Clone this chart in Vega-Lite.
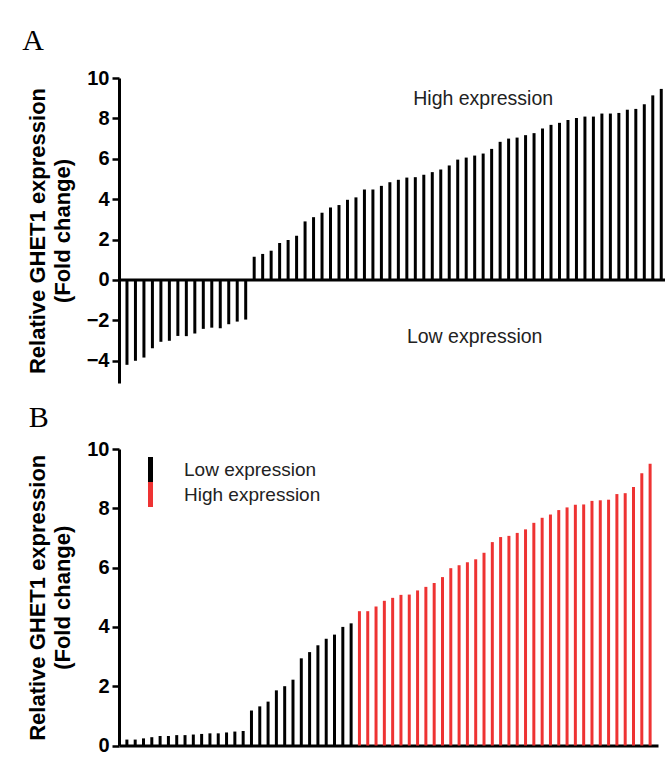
{
  "$schema": "https://vega.github.io/schema/vega-lite/v6.json",
  "background": "white",
  "padding": {"left": 22, "top": 26, "right": 0, "bottom": 0},
  "spacing": 20,
  "resolve": {"scale": {"color": "independent"}, "legend": {"color": "independent"}},
  "config": {
    "view": {"stroke": null},
    "font": "Liberation Sans",
    "axis": {
      "domainColor": "black", "domainWidth": 3, "tickColor": "black", "tickWidth": 2.5, "tickSize": 7,
      "labelFont": "Liberation Sans", "labelFontWeight": "bold", "labelFontSize": 20, "labelColor": "black", "labelPadding": 3,
      "titleFont": "Liberation Sans", "titleFontWeight": "bold", "titleFontSize": 22, "titleColor": "black", "titlePadding": 12, "titleLineHeight": 25,
      "grid": false
    },
    "title": {"font": "Liberation Serif", "fontSize": 30, "fontWeight": "normal", "color": "black", "anchor": "start", "frame": "bounds"}
  },
  "datasets": {
    "d": [
      {"i": 1, "a": -4.20, "b": 0.20, "grp": "Low expression"},
      {"i": 2, "a": -4.00, "b": 0.20, "grp": "Low expression"},
      {"i": 3, "a": -3.84, "b": 0.24, "grp": "Low expression"},
      {"i": 4, "a": -3.38, "b": 0.28, "grp": "Low expression"},
      {"i": 5, "a": -3.06, "b": 0.32, "grp": "Low expression"},
      {"i": 6, "a": -3.01, "b": 0.32, "grp": "Low expression"},
      {"i": 7, "a": -2.77, "b": 0.35, "grp": "Low expression"},
      {"i": 8, "a": -2.78, "b": 0.35, "grp": "Low expression"},
      {"i": 9, "a": -2.65, "b": 0.37, "grp": "Low expression"},
      {"i": 10, "a": -2.42, "b": 0.39, "grp": "Low expression"},
      {"i": 11, "a": -2.36, "b": 0.41, "grp": "Low expression"},
      {"i": 12, "a": -2.39, "b": 0.41, "grp": "Low expression"},
      {"i": 13, "a": -2.19, "b": 0.44, "grp": "Low expression"},
      {"i": 14, "a": -2.06, "b": 0.47, "grp": "Low expression"},
      {"i": 15, "a": -1.96, "b": 0.49, "grp": "Low expression"},
      {"i": 16, "a": 1.15, "b": 1.18, "grp": "Low expression"},
      {"i": 17, "a": 1.29, "b": 1.32, "grp": "Low expression"},
      {"i": 18, "a": 1.45, "b": 1.48, "grp": "Low expression"},
      {"i": 19, "a": 1.83, "b": 1.86, "grp": "Low expression"},
      {"i": 20, "a": 1.98, "b": 2.00, "grp": "Low expression"},
      {"i": 21, "a": 2.19, "b": 2.22, "grp": "Low expression"},
      {"i": 22, "a": 2.90, "b": 2.94, "grp": "Low expression"},
      {"i": 23, "a": 3.11, "b": 3.15, "grp": "Low expression"},
      {"i": 24, "a": 3.33, "b": 3.38, "grp": "Low expression"},
      {"i": 25, "a": 3.59, "b": 3.60, "grp": "Low expression"},
      {"i": 26, "a": 3.71, "b": 3.74, "grp": "Low expression"},
      {"i": 27, "a": 3.97, "b": 4.00, "grp": "Low expression"},
      {"i": 28, "a": 4.09, "b": 4.12, "grp": "Low expression"},
      {"i": 29, "a": 4.48, "b": 4.53, "grp": "High expression"},
      {"i": 30, "a": 4.48, "b": 4.53, "grp": "High expression"},
      {"i": 31, "a": 4.66, "b": 4.69, "grp": "High expression"},
      {"i": 32, "a": 4.84, "b": 4.88, "grp": "High expression"},
      {"i": 33, "a": 4.96, "b": 4.98, "grp": "High expression"},
      {"i": 34, "a": 5.07, "b": 5.08, "grp": "High expression"},
      {"i": 35, "a": 5.09, "b": 5.09, "grp": "High expression"},
      {"i": 36, "a": 5.21, "b": 5.23, "grp": "High expression"},
      {"i": 37, "a": 5.34, "b": 5.35, "grp": "High expression"},
      {"i": 38, "a": 5.47, "b": 5.48, "grp": "High expression"},
      {"i": 39, "a": 5.67, "b": 5.68, "grp": "High expression"},
      {"i": 40, "a": 5.96, "b": 5.98, "grp": "High expression"},
      {"i": 41, "a": 6.06, "b": 6.08, "grp": "High expression"},
      {"i": 42, "a": 6.16, "b": 6.18, "grp": "High expression"},
      {"i": 43, "a": 6.26, "b": 6.28, "grp": "High expression"},
      {"i": 44, "a": 6.49, "b": 6.50, "grp": "High expression"},
      {"i": 45, "a": 6.84, "b": 6.86, "grp": "High expression"},
      {"i": 46, "a": 7.00, "b": 7.03, "grp": "High expression"},
      {"i": 47, "a": 7.05, "b": 7.07, "grp": "High expression"},
      {"i": 48, "a": 7.17, "b": 7.17, "grp": "High expression"},
      {"i": 49, "a": 7.27, "b": 7.29, "grp": "High expression"},
      {"i": 50, "a": 7.50, "b": 7.51, "grp": "High expression"},
      {"i": 51, "a": 7.68, "b": 7.68, "grp": "High expression"},
      {"i": 52, "a": 7.78, "b": 7.79, "grp": "High expression"},
      {"i": 53, "a": 7.92, "b": 7.94, "grp": "High expression"},
      {"i": 54, "a": 8.02, "b": 8.03, "grp": "High expression"},
      {"i": 55, "a": 8.09, "b": 8.12, "grp": "High expression"},
      {"i": 56, "a": 8.09, "b": 8.13, "grp": "High expression"},
      {"i": 57, "a": 8.24, "b": 8.25, "grp": "High expression"},
      {"i": 58, "a": 8.24, "b": 8.27, "grp": "High expression"},
      {"i": 59, "a": 8.27, "b": 8.29, "grp": "High expression"},
      {"i": 60, "a": 8.43, "b": 8.48, "grp": "High expression"},
      {"i": 61, "a": 8.47, "b": 8.51, "grp": "High expression"},
      {"i": 62, "a": 8.70, "b": 8.72, "grp": "High expression"},
      {"i": 63, "a": 9.14, "b": 9.18, "grp": "High expression"},
      {"i": 64, "a": 9.46, "b": 9.50, "grp": "High expression"}
    ]
  },
  "vconcat": [
    {
      "width": 546.5,
      "height": 305,
      "title": {"text": "A", "dx": -4, "offset": 12},
      "layer": [
        {
          "data": {"name": "d"},
          "mark": {"type": "bar", "width": 3, "color": "black"},
          "encoding": {
            "x": {"field": "i", "type": "ordinal", "scale": {"paddingInner": 0, "paddingOuter": 0.22, "align": 1}, "axis": null},
            "y": {"field": "a", "type": "quantitative", "scale": {"domain": [-5.1, 10], "nice": false},
                  "axis": {"values": [-4, -2, 0, 2, 4, 6, 8, 10], "title": ["Relative GHET1 expression", "(Fold change)"]}}
          }
        },
        {
          "data": {"values": [{}]},
          "mark": {"type": "rule", "strokeWidth": 3, "color": "black"},
          "encoding": {"y": {"datum": 0, "type": "quantitative"}}
        },
        {
          "data": {"values": [{}]},
          "mark": {"type": "text", "fontSize": 19.5, "color": "#222", "font": "Liberation Sans"},
          "encoding": {"x": {"datum": 43, "type": "ordinal"}, "y": {"datum": 8.96, "type": "quantitative"}, "text": {"value": "High expression"}}
        },
        {
          "data": {"values": [{}]},
          "mark": {"type": "text", "fontSize": 19.5, "color": "#222", "font": "Liberation Sans"},
          "encoding": {"x": {"datum": 42, "type": "ordinal"}, "y": {"datum": -2.82, "type": "quantitative"}, "text": {"value": "Low expression"}}
        }
      ]
    },
    {
      "width": 539,
      "height": 296.5,
      "title": {"text": "B", "dx": 2, "offset": 6},
      "data": {"name": "d"},
      "mark": {"type": "bar", "width": 3},
      "encoding": {
        "x": {"field": "i", "type": "ordinal", "scale": {"paddingInner": 0, "paddingOuter": 0.45},
              "axis": {"labels": false, "ticks": false, "title": null}},
        "y": {"field": "b", "type": "quantitative", "scale": {"domain": [0, 10], "nice": false},
              "axis": {"values": [0, 2, 4, 6, 8, 10], "title": ["Relative GHET1 expression", "(Fold change)"]}},
        "color": {"field": "grp", "type": "nominal",
                  "scale": {"domain": ["Low expression", "High expression"], "range": ["black", "#ee3333"]},
                  "legend": {"title": null, "orient": "none", "legendX": 19, "legendY": 8,
                             "symbolType": "M-0.2,-1H0.2V1H-0.2Z", "symbolSize": 625, "symbolStrokeWidth": 0,
                             "labelFont": "Liberation Sans", "labelFontSize": 19, "labelColor": "#222", "labelOffset": 21,
                             "rowPadding": 0, "labelLimit": 300}}
      }
    }
  ]
}
